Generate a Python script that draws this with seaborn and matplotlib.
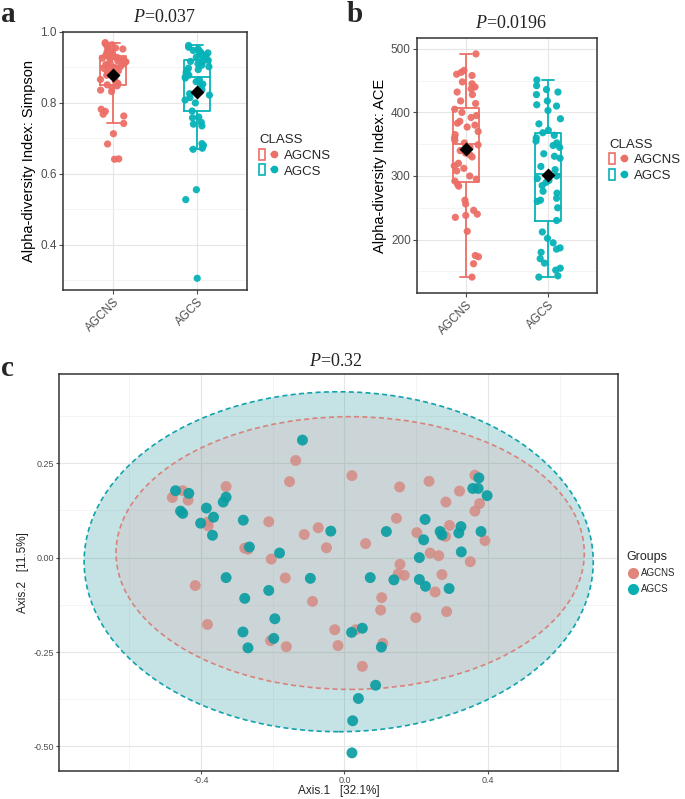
import numpy as np
import pandas as pd
import matplotlib
matplotlib.use("Agg")
import matplotlib.pyplot as plt
import seaborn as sns
from matplotlib.patches import Ellipse, Rectangle
from matplotlib.lines import Line2D
from matplotlib.legend_handler import HandlerTuple

# ---- data ----
classes = ["AGCNS", "AGCS"]

simpson_agcns = [0.641, 0.642, 0.684, 0.713, 0.742, 0.763, 0.768, 0.776, 0.782, 0.832, 0.836, 0.843, 0.848,
                 0.851, 0.855, 0.860, 0.866, 0.872, 0.878, 0.882, 0.886, 0.890, 0.894, 0.897, 0.900, 0.903,
                 0.906, 0.908, 0.911, 0.914, 0.916, 0.918, 0.920, 0.922, 0.924, 0.926, 0.928, 0.930, 0.931,
                 0.934, 0.937, 0.940, 0.943, 0.946, 0.949, 0.952, 0.955, 0.958, 0.961, 0.964, 0.967, 0.970]
simpson_agcs = [0.305, 0.527, 0.555, 0.669, 0.672, 0.680, 0.685, 0.735, 0.740, 0.745, 0.758, 0.760,
                0.777, 0.800, 0.808, 0.815, 0.822, 0.826, 0.838, 0.848, 0.853, 0.860, 0.865, 0.870,
                0.874, 0.878, 0.882, 0.886, 0.890, 0.894, 0.898, 0.902, 0.906, 0.910, 0.914, 0.917,
                0.920, 0.923, 0.926, 0.929, 0.932, 0.935, 0.938, 0.941, 0.944, 0.948, 0.952, 0.957, 0.962]

ace_agcns = [141, 162, 173, 175, 213, 235, 238, 240, 246, 256, 262, 284, 287,
             292, 295, 300, 308, 312, 316, 320, 330, 333, 336, 340, 345, 349,
             352, 356, 360, 365, 370, 377, 380, 383, 386, 392, 395, 400, 405,
             414, 418, 428, 432, 437, 440, 445, 448, 458, 460, 463, 466, 492]
ace_agcs = [141, 143, 152, 155, 163, 170, 180, 185, 187, 195, 202, 212, 230,
            250, 260, 262, 265, 273, 276, 285, 290, 293, 296, 300, 303,
            310, 315, 328, 331, 335, 345, 348, 352, 355, 360, 364, 368,
            372, 382, 390, 403, 410, 412, 418, 428, 432, 436, 442, 451]

# PCoA coordinates
pc1_agcns = [-0.136, -0.153, 0.021, 0.154, 0.236, 0.321, 0.364, 0.283, 0.364, 0.377, -0.480, -0.451, -0.436,
             -0.330, -0.381, -0.380, -0.211, -0.112, -0.073, -0.050, 0.059, 0.145, 0.202, 0.293, 0.282, 0.392,
             -0.278, -0.269, -0.204, 0.239, 0.263, 0.351, 0.155, 0.150, 0.167, 0.272, -0.165, -0.416, 0.253,
             -0.089, 0.104, 0.101, 0.199, 0.285, -0.382, -0.027, 0.032, -0.206, -0.162, -0.018, 0.107, 0.050]
pc2_agcns = [0.257, 0.201, 0.217, 0.187, 0.202, 0.176, 0.218, 0.147, 0.123, 0.143, 0.159, 0.177, 0.152,
             0.188, 0.094, 0.084, 0.095, 0.061, 0.079, 0.026, 0.037, 0.104, 0.066, 0.085, 0.056, 0.045,
             0.025, 0.022, -0.004, 0.012, 0.005, -0.011, -0.018, -0.043, -0.047, -0.045, -0.054, -0.074, -0.091,
             -0.116, -0.106, -0.139, -0.159, -0.143, -0.177, -0.191, -0.191, -0.220, -0.236, -0.233, -0.227, -0.288]
pc1_agcs = [-0.117, -0.471, -0.434, -0.457, -0.451, -0.385, -0.330, -0.338, -0.365, -0.401, -0.368, -0.282,
            -0.265, -0.181, -0.038, 0.117, 0.225, 0.221, 0.267, 0.272, 0.325, 0.319, 0.381, 0.326, 0.209,
            0.358, 0.373, 0.375, 0.398, -0.330, -0.095, 0.072, 0.138, 0.209, 0.226, 0.292, -0.211, -0.278,
            -0.194, -0.283, -0.197, -0.269, 0.020, 0.050, 0.103, 0.087, 0.039, 0.023, 0.021]
pc2_agcs = [0.311, 0.177, 0.170, 0.123, 0.117, 0.131, 0.160, 0.147, 0.107, 0.091, 0.059, 0.099,
            0.028, 0.012, 0.070, 0.069, 0.101, 0.047, 0.069, 0.060, 0.082, 0.065, 0.069, 0.015, 0.000,
            0.183, 0.183, 0.211, 0.164, -0.053, -0.055, -0.053, -0.059, -0.058, -0.076, -0.082, -0.087, -0.108,
            -0.162, -0.197, -0.214, -0.239, -0.198, -0.187, -0.237, -0.338, -0.373, -0.432, -0.517]

# ellipse (center x, center y, half-width, half-height) per group
ellipse_agcns = [0.016, 0.012, 0.653, 0.361]
ellipse_agcs = [-0.016, -0.011, 0.710, 0.450]

p_values = ["0.037", "0.0196", "0.32"]

# ---- style ----
RED = "#F8766D"
TEAL = "#00BFC4"
pal = {"AGCNS": "#EC6F67", "AGCS": "#06B3B8"}
SANS = ["Liberation Sans Narrow", "Liberation Sans", "DejaVu Sans"]

sns.set_theme(style="whitegrid")
plt.rcParams["font.family"] = SANS
plt.rcParams["mathtext.fontset"] = "custom"
plt.rcParams["mathtext.it"] = "Liberation Serif:italic"
plt.rcParams["mathtext.rm"] = "Liberation Serif"

np.random.seed(3)


def style_axes(ax, tick_size):
    ax.set_facecolor("white")
    for s in ax.spines.values():
        s.set_visible(True)
        s.set_color("#333333")
        s.set_linewidth(1.1)
    ax.grid(True, which="major", color="#E6E6E6", linewidth=0.8)
    ax.grid(True, which="minor", color="#F0F0F0", linewidth=0.5)
    ax.tick_params(axis="both", which="major", length=3, width=0.8, color="#4D4D4D",
                   labelcolor="#4D4D4D", labelsize=tick_size, left=True, bottom=True, pad=1.5)
    ax.tick_params(axis="both", which="minor", length=0)
    ax.set_axisbelow(True)


def alpha_panel(ax, a_vals, b_vals, ylabel, ylim, yticks, yminor, title, title_x):
    df = pd.DataFrame({
        "CLASS": ["AGCNS"] * len(a_vals) + ["AGCS"] * len(b_vals),
        "value": list(a_vals) + list(b_vals),
    })
    sns.boxplot(data=df, x="CLASS", y="value", hue="CLASS", palette=pal, fill=False,
                width=0.31, showfliers=False, linewidth=1.3, whis=1.5, legend=False, ax=ax)
    sns.stripplot(data=df, x="CLASS", y="value", hue="CLASS", palette=pal, jitter=0.16,
                  size=5.2, alpha=0.95, linewidth=0, legend=False, ax=ax)
    sns.pointplot(data=df, x="CLASS", y="value", estimator="mean", errorbar=None,
                  color="black", marker="D", markersize=5.5, linestyle="none", ax=ax)
    for ln in ax.lines[-3:]:
        ln.set_zorder(10)
    for c in ax.collections:
        c.set_zorder(5)
    style_axes(ax, 8.5)
    ax.set_ylim(*ylim)
    ax.set_xlim(-0.6, 1.6)
    ax.set_yticks(yticks)
    ax.set_yticks(yminor, minor=True)
    ax.set_xlabel("")
    ax.set_ylabel(ylabel, fontsize=10.5, color="black", labelpad=3)
    plt.setp(ax.get_xticklabels(), rotation=45, ha="right", rotation_mode="anchor")
    ax.text(title_x, 1.025, r"$P$=" + title, transform=ax.transAxes, ha="center", va="bottom",
            fontsize=13, family="Liberation Serif", color="#222222")
    handles = []
    for cls in classes:
        box = Rectangle((0, 0), 1, 1, facecolor="white", edgecolor=pal[cls], linewidth=1.2)
        dot = Line2D([0], [0], color=pal[cls], marker="o", markersize=4.5, linewidth=1.2)
        handles.append((box, dot))
    ax.legend(handles, classes, handler_map={tuple: HandlerTuple(ndivide=None)},
              title="CLASS", loc="center left", bbox_to_anchor=(1.0, 0.52), frameon=False,
              fontsize=9.5, title_fontsize=9.5, handlelength=1.4, handleheight=0.9,
              handletextpad=0.5, alignment="left", labelspacing=0.2)


fig = plt.figure(figsize=(6.85, 7.99), dpi=100)

ax_a = fig.add_axes([63 / 685, 1 - 290 / 799, 184 / 685, 258 / 799])
alpha_panel(ax_a, simpson_agcns, simpson_agcs, "Alpha-diversity Index: Simpson",
            (0.272, 1.0), [0.4, 0.6, 0.8, 1.0], [0.3, 0.5, 0.7, 0.9], p_values[0], 0.55)

ax_b = fig.add_axes([417 / 685, 1 - 293 / 799, 180 / 685, 255 / 799])
alpha_panel(ax_b, ace_agcns, ace_agcs, "Alpha-diversity Index: ACE",
            (116, 517), [200, 300, 400, 500], [150, 250, 350, 450], p_values[1], 0.52)

# ---- panel c: PCoA ----
ax_c = fig.add_axes([59 / 685, 1 - 771 / 799, 559 / 685, 397 / 799])
pcoa = pd.DataFrame({
    "Axis.1": pc1_agcns + pc1_agcs,
    "Axis.2": pc2_agcns + pc2_agcs,
    "Groups": ["AGCNS"] * len(pc1_agcns) + ["AGCS"] * len(pc1_agcs),
})

for ell, edge, face, alpha in [(ellipse_agcs, "#11A3AB", "#1A8F99", 0.25),
                               (ellipse_agcns, "#D9827B", RED, 0.12)]:
    cx, cy, rx, ry = ell
    ax_c.add_patch(Ellipse((cx, cy), 2 * rx, 2 * ry, facecolor=face, alpha=alpha,
                           edgecolor="none", zorder=2))
    ax_c.add_patch(Ellipse((cx, cy), 2 * rx, 2 * ry, facecolor="none", edgecolor=edge,
                           linestyle=(0, (3, 2)), linewidth=1.2, zorder=3))

sns.scatterplot(data=pcoa, x="Axis.1", y="Axis.2", hue="Groups",
                palette={"AGCNS": "#D4908A", "AGCS": "#0C9EA3"}, s=62, alpha=0.92,
                linewidth=0, ax=ax_c, zorder=4, legend=False)
style_axes(ax_c, 6.5)
ax_c.set_xlim(-0.796, 0.763)
ax_c.set_ylim(-0.565, 0.486)
ax_c.set_xticks([-0.4, 0.0, 0.4])
ax_c.set_xticklabels(["-0.4", "0.0", "0.4"])
ax_c.set_xticks([-0.6, -0.2, 0.2, 0.6], minor=True)
ax_c.set_yticks([-0.50, -0.25, 0.0, 0.25])
ax_c.set_yticklabels(["-0.50", "-0.25", "0.00", "0.25"])
ax_c.set_yticks([-0.375, -0.125, 0.125, 0.375], minor=True)
ax_c.tick_params(axis="both", which="major", length=2.5, pad=1)
ax_c.set_xlabel("Axis.1   [32.1%]", fontsize=8.5, color="#222222", labelpad=0)
ax_c.set_ylabel("Axis.2   [11.5%]", fontsize=8.5, color="#222222", labelpad=3)
ax_c.text(0.495, 1.01, r"$P$=" + p_values[2], transform=ax_c.transAxes, ha="center", va="bottom",
          fontsize=13, family="Liberation Serif", color="#222222")
grp_handles = [Line2D([0], [0], marker="o", linestyle="none", markersize=8,
                      markerfacecolor=c, markeredgecolor="none") for c in ["#E0847C", "#0AAFB4"]]
ax_c.legend(grp_handles, classes, title="Groups", loc="center left", bbox_to_anchor=(1.0, 0.5),
            frameon=False, fontsize=7, title_fontsize=9, handletextpad=0.3, handlelength=1.2,
            alignment="left", labelspacing=0.6)

# panel letters
for lbl, x, y in [("a", 0.002, 0.999), ("b", 0.506, 0.999), ("c", 0.002, 0.556)]:
    fig.text(x, y, lbl, fontsize=21, fontweight="bold", family="Liberation Serif",
             ha="left", va="top")

fig.savefig("out.png", dpi=100)
